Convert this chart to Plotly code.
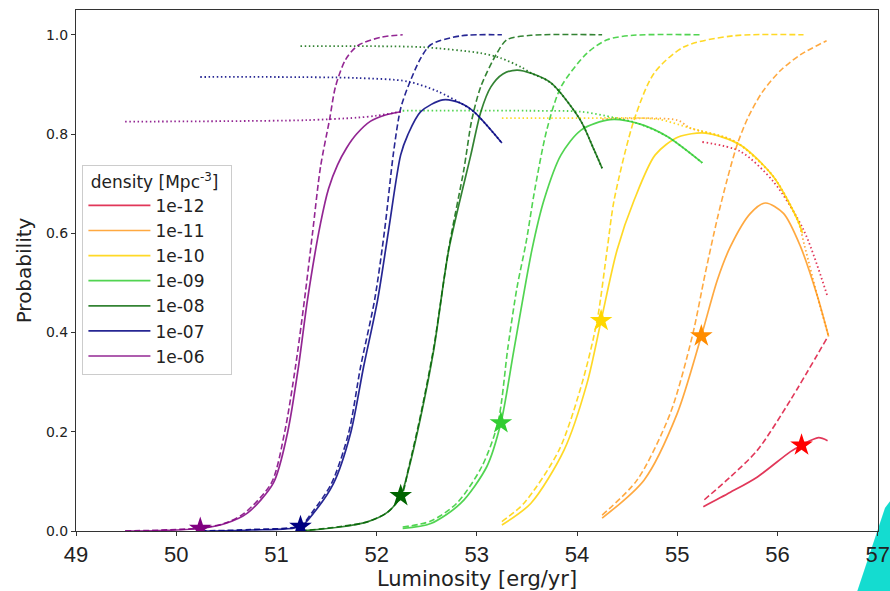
import plotly.graph_objects as go

# ---------------- data ----------------
labels = ["1e-12", "1e-11", "1e-10", "1e-09", "1e-08", "1e-07", "1e-06"]
line_colors = ["rgba(220,20,60,0.85)", "rgba(255,140,0,0.75)", "rgba(255,210,0,0.85)",
               "rgba(50,205,50,0.85)", "rgba(0,100,0,0.8)", "rgba(0,0,128,0.85)",
               "rgba(128,0,128,0.85)"]
star_colors = ["#ff0000", "#ff8c00", "#ffd700", "#32cd32", "#006400", "#000080", "#800080"]

# solid curves
solid_L = {
    "1e-12": [55.26, 55.53, 55.80, 56.13, 56.24, 56.41, 56.50],
    "1e-11": [54.25, 54.67, 55.00, 55.24, 55.40, 55.53, 55.73, 55.88, 56.06, 56.23, 56.40, 56.51],
    "1e-10": [53.25, 53.54, 53.87, 54.10, 54.24, 54.40, 54.57, 54.78, 55.01, 55.28, 55.63, 55.96, 56.20, 56.25],
    "1e-09": [52.26, 52.54, 52.84, 53.10, 53.24, 53.37, 53.55, 53.67, 53.84, 54.04, 54.33, 54.63, 54.90, 55.25],
    "1e-08": [51.24, 51.64, 51.90, 52.11, 52.24, 52.32, 52.44, 52.57, 52.72, 52.94, 53.04, 53.14, 53.26, 53.40, 53.55, 53.74, 54.03, 54.17, 54.25],
    "1e-07": [50.24, 50.74, 51.24, 51.37, 51.57, 51.74, 51.87, 52.01, 52.12, 52.24, 52.31, 52.44, 52.66, 52.84, 52.97, 53.25],
    "1e-06": [49.49, 49.84, 50.24, 50.49, 50.71, 50.97, 51.11, 51.22, 51.31, 51.44, 51.52, 51.61, 51.70, 51.80, 51.94, 52.08, 52.24],
}
solid_P = {
    "1e-12": [0.049, 0.078, 0.109, 0.160, 0.173, 0.188, 0.182],
    "1e-11": [0.026, 0.103, 0.237, 0.393, 0.506, 0.573, 0.640, 0.661, 0.640, 0.573, 0.472, 0.392],
    "1e-10": [0.012, 0.056, 0.163, 0.298, 0.424, 0.567, 0.667, 0.758, 0.794, 0.802, 0.778, 0.714, 0.627, 0.600],
    "1e-09": [0.005, 0.015, 0.056, 0.130, 0.218, 0.365, 0.567, 0.667, 0.758, 0.808, 0.829, 0.820, 0.795, 0.742],
    "1e-08": [0.000, 0.008, 0.018, 0.038, 0.071, 0.125, 0.230, 0.365, 0.567, 0.758, 0.845, 0.895, 0.921, 0.929, 0.922, 0.903, 0.829, 0.768, 0.731],
    "1e-07": [0.000, 0.002, 0.009, 0.036, 0.096, 0.197, 0.331, 0.466, 0.607, 0.758, 0.798, 0.845, 0.869, 0.862, 0.845, 0.782],
    "1e-06": [0.000, 0.001, 0.005, 0.015, 0.036, 0.097, 0.197, 0.331, 0.466, 0.620, 0.690, 0.738, 0.772, 0.800, 0.826, 0.838, 0.845],
}

# dashed curves
dash_L = {
    "1e-12": [55.27, 55.53, 55.80, 56.13, 56.50],
    "1e-11": [54.25, 54.60, 54.93, 55.15, 55.28, 55.40, 55.50, 55.60, 55.71, 55.85, 56.03, 56.23, 56.49],
    "1e-10": [53.25, 53.47, 53.82, 54.05, 54.20, 54.30, 54.37, 54.57, 54.77, 55.07, 55.56, 56.26],
    "1e-09": [52.26, 52.54, 52.80, 53.05, 53.21, 53.31, 53.40, 53.49, 53.58, 53.70, 53.84, 54.10, 54.30, 54.56, 55.25],
    "1e-08": [51.24, 51.64, 51.90, 52.11, 52.25, 52.32, 52.44, 52.57, 52.72, 52.87, 52.95, 53.04, 53.20, 53.30, 53.54, 54.25],
    "1e-07": [50.24, 50.74, 51.24, 51.35, 51.55, 51.72, 51.84, 51.98, 52.08, 52.17, 52.24, 52.32, 52.44, 52.54, 52.84, 53.25],
    "1e-06": [49.49, 50.24, 50.49, 50.68, 50.95, 51.08, 51.19, 51.28, 51.36, 51.44, 51.53, 51.59, 51.69, 51.81, 52.04, 52.26],
}
dash_P = {
    "1e-12": [0.063, 0.109, 0.163, 0.264, 0.391],
    "1e-11": [0.032, 0.103, 0.237, 0.393, 0.520, 0.630, 0.710, 0.780, 0.835, 0.885, 0.928, 0.960, 0.988],
    "1e-10": [0.019, 0.056, 0.163, 0.298, 0.424, 0.567, 0.667, 0.829, 0.923, 0.976, 0.998, 1.000],
    "1e-09": [0.008, 0.020, 0.056, 0.130, 0.218, 0.370, 0.490, 0.580, 0.690, 0.810, 0.895, 0.963, 0.990, 0.999, 1.000],
    "1e-08": [0.000, 0.009, 0.018, 0.038, 0.072, 0.128, 0.235, 0.370, 0.570, 0.728, 0.829, 0.896, 0.963, 0.990, 0.999, 1.000],
    "1e-07": [0.000, 0.003, 0.011, 0.036, 0.096, 0.197, 0.331, 0.466, 0.607, 0.765, 0.852, 0.899, 0.953, 0.980, 0.998, 1.000],
    "1e-06": [0.000, 0.006, 0.016, 0.036, 0.097, 0.197, 0.331, 0.466, 0.600, 0.734, 0.829, 0.896, 0.950, 0.978, 0.995, 1.000],
}

# dotted curves
dot_L = {
    "1e-12": [55.25, 55.63, 55.96, 56.26, 56.50],
    "1e-11": [54.25, 55.00, 55.13, 55.50, 55.63, 55.96, 56.20, 56.27, 56.40, 56.51],
    "1e-10": [53.25, 54.00, 54.80, 55.13, 55.45, 55.63, 55.96, 56.20, 56.25],
    "1e-09": [52.26, 53.50, 54.04, 54.37, 54.60, 54.90, 55.25],
    "1e-08": [51.24, 52.00, 52.47, 53.04, 53.24, 53.44, 53.55, 53.74, 54.03, 54.17, 54.25],
    "1e-07": [50.24, 51.00, 51.80, 52.31, 52.61, 52.84, 52.97, 53.25],
    "1e-06": [49.49, 50.50, 51.30, 51.80, 52.00, 52.24],
}
dot_P = {
    "1e-12": [0.784, 0.765, 0.704, 0.607, 0.472],
    "1e-11": [0.830, 0.828, 0.812, 0.792, 0.778, 0.714, 0.627, 0.575, 0.472, 0.392],
    "1e-10": [0.832, 0.832, 0.830, 0.812, 0.795, 0.778, 0.714, 0.627, 0.600],
    "1e-09": [0.847, 0.847, 0.845, 0.833, 0.822, 0.795, 0.742],
    "1e-08": [0.977, 0.977, 0.975, 0.963, 0.953, 0.935, 0.922, 0.903, 0.829, 0.768, 0.731],
    "1e-07": [0.915, 0.915, 0.913, 0.906, 0.886, 0.862, 0.845, 0.782],
    "1e-06": [0.825, 0.826, 0.828, 0.833, 0.837, 0.845],
}

# star markers
star_L = [56.24, 55.24, 54.24, 53.24, 52.24, 51.24, 50.24]
star_P = [0.173, 0.393, 0.424, 0.218, 0.071, 0.009, 0.005]

x_ticks = [49, 50, 51, 52, 53, 54, 55, 56, 57]
y_ticks = [0.0, 0.2, 0.4, 0.6, 0.8, 1.0]
y_tick_text = ["0.0", "0.2", "0.4", "0.6", "0.8", "1.0"]

# ---------------- figure ----------------
fig = go.Figure()

for i, lab in enumerate(labels):
    c = line_colors[i]
    fig.add_trace(go.Scatter(x=dot_L[lab], y=dot_P[lab], mode="lines", showlegend=False,
                             line=dict(color=c, width=1.8, dash="1.5px,2.6px", shape="spline", smoothing=0.8),
                             hoverinfo="skip"))
    fig.add_trace(go.Scatter(x=dash_L[lab], y=dash_P[lab], mode="lines", showlegend=False,
                             line=dict(color=c, width=1.6, dash="6px,3px", shape="spline", smoothing=0.8),
                             hoverinfo="skip"))
    fig.add_trace(go.Scatter(x=solid_L[lab], y=solid_P[lab], mode="lines", name=lab, showlegend=True,
                             line=dict(color=c, width=1.7, shape="spline", smoothing=0.8)))

for i, lab in enumerate(labels):
    fig.add_trace(go.Scatter(x=[star_L[i]], y=[star_P[i]], mode="markers", showlegend=False,
                             marker=dict(symbol="star", size=17, color=star_colors[i], line=dict(width=0))))

L, R, T, B = 76, 12, 10, 60
W, H = 890, 591

fig.update_layout(
    width=W, height=H,
    margin=dict(l=L, r=R, t=T, b=B),
    paper_bgcolor="white", plot_bgcolor="white",
    font=dict(family="DejaVu Sans", color="#222222"),
    legend=dict(
        x=0.008, y=0.703, xanchor="left", yanchor="top",
        bgcolor="rgba(255,255,255,0.9)", bordercolor="#cccccc", borderwidth=1,
        font=dict(size=17, family="DejaVu Sans", color="#222222"),
        title=dict(text=" density [Mpc<sup>-3</sup>]  ", font=dict(size=17, family="DejaVu Sans")),
        tracegroupgap=0, itemwidth=62,
    ),
    xaxis=dict(
        range=[49, 57.003], tickmode="array", tickvals=x_ticks, ticktext=[str(v) for v in x_ticks],
        showgrid=False, zeroline=False, showline=True, linecolor="#333333", linewidth=1, mirror=True,
        ticks="outside", ticklen=4, tickcolor="#333333", automargin=False, ticklabeloverflow="allow",
        tickfont=dict(size=22, family="Liberation Sans", color="#222222"),
        title=dict(text="Luminosity [erg/yr]", font=dict(size=21, family="DejaVu Sans"), standoff=7),
    ),
    yaxis=dict(
        range=[0, 1.05], tickmode="array", tickvals=y_ticks, ticktext=y_tick_text,
        showgrid=False, zeroline=False, showline=True, linecolor="#333333", linewidth=1, mirror=True,
        ticks="outside", ticklen=4, tickcolor="#333333", automargin=False,
        tickfont=dict(size=14, family="DejaVu Sans", color="#222222"),
        title=dict(text="Probability", font=dict(size=20, family="DejaVu Sans"), standoff=8),
    ),
)

# cyan decoration in the bottom-right corner of the screenshot
pw, ph = W - L - R, H - T - B
def px(xp):
    return (xp - L) / pw
def py(yp):
    return (H - B - yp) / ph
path = "M {:.4f},{:.4f} L {:.4f},{:.4f} L {:.4f},{:.4f} L {:.4f},{:.4f} Z".format(
    px(885), py(508), px(891), py(500), px(891), py(592), px(857), py(592))
fig.add_shape(type="path", path=path, xref="paper", yref="paper",
              fillcolor="#14dcd0", line=dict(width=0), layer="below")

fig.write_html("out.html")
